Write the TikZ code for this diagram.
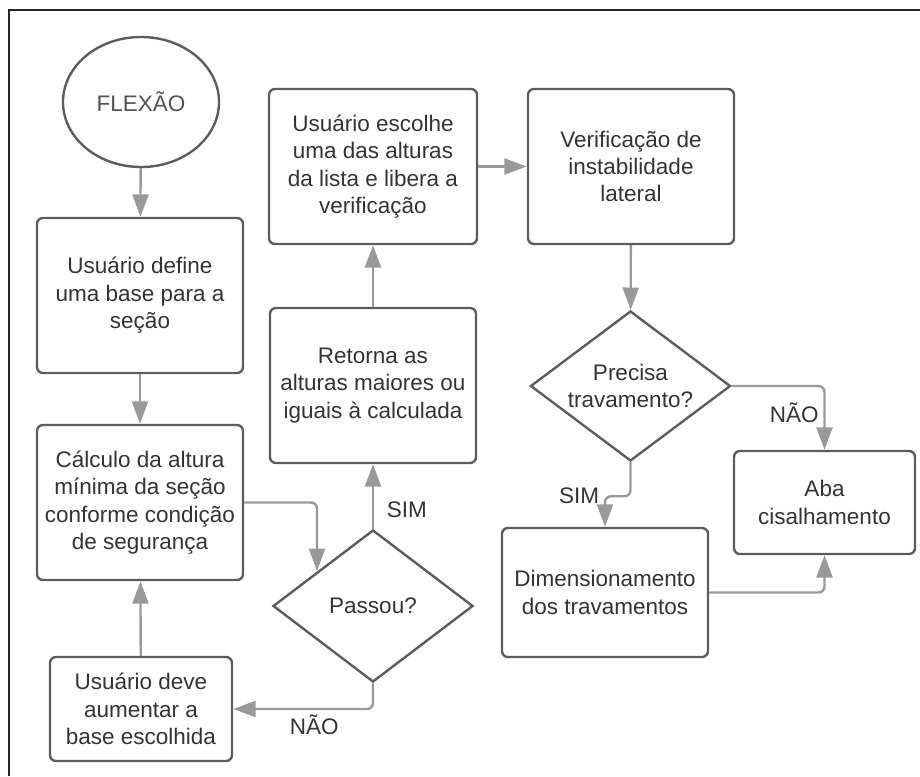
\documentclass[tikz,border=0pt]{standalone}
\usepackage{fontspec}
\setmainfont{Liberation Sans}
\usetikzlibrary{shapes.geometric, arrows.meta, positioning}
\definecolor{boxgray}{HTML}{5C5C5C}
\definecolor{linegray}{HTML}{999999}
\definecolor{textgray}{HTML}{333333}

\begin{document}
\begin{tikzpicture}[x=0.025cm, y=-0.025cm, every node/.style={font=\fontsize{16}{19.5}\selectfont, text=textgray, align=center}]
        \tikzstyle{startstop} = [ellipse, minimum width=3.9cm, minimum height=3.25cm, draw=boxgray, line width=1.7pt, text=textgray!85]
        \tikzstyle{process} = [rectangle, rounded corners=0.15cm, minimum width=5.15cm, minimum height=3.875cm, inner sep=2pt, draw=boxgray, line width=1.7pt]
        \tikzstyle{decision} = [diamond, aspect=1.33, inner sep=0pt, minimum width=5cm, minimum height=3.8cm, draw=boxgray, line width=1.7pt]
        \tikzstyle{arrow} = [line width=1.7pt, draw=linegray, rounded corners=0.15cm, -{Triangle[length=0.56cm, width=0.4cm]}]

        \useasboundingbox (0,0) rectangle (920,776);
        \draw [line width=1.4pt, black!85] (9,776) -- (9,10) -- (920,10);

        % Nodes
        \node (flexao) [startstop] at (141,102) {FLEXÃO};
        \node (define) [process] at (140,295.5) {Usuário define\\uma base para a\\seção};
        \node (calculo) [process] at (140,502.5) {Cálculo da altura\\mínima da seção\\conforme condição\\de segurança};
        \node (aumenta) [process, minimum width=4.55cm, minimum height=2.6cm] at (141,709) {Usuário deve\\aumentar a\\base escolhida};
        \node (passou) [decision] at (373,606) {Passou?};
        \node (retorna) [process] at (373,385.5) {Retorna as\\alturas maiores ou\\iguais à calculada};
        \node (escolhe) [process, minimum width=5.2cm] at (373,166.5) {Usuário escolhe\\uma das alturas\\da lista e libera a\\verificação};
        \node (verif) [process] at (631,166.5) {Verificação de\\instabilidade\\lateral};
        \node (precisa) [decision, minimum height=3.75cm] at (630.5,386) {Precisa\\travamento?};
        \node (aba) [process, minimum width=4.525cm, minimum height=2.575cm] at (824.5,502.5) {Aba\\cisalhamento};
        \node (dimens) [process, minimum height=3.225cm] at (605,592.5) {Dimensionamento\\dos travamentos};

        \coordinate (passin) at (317,571);

        % Connections
        \draw [arrow] (flexao) -- (define);
        \draw [arrow] (define) -- (calculo);
        \draw [arrow] (calculo.east) -| (passin);
        \draw [arrow] (passou.north) -- node[pos=0.3, right=0.2cm] {SIM} (retorna.south);
        \draw [arrow] (passou.south) |- node[pos=0.71, below] {NÃO} (aumenta.east);
        \draw [arrow] (aumenta) -- (calculo);
        \draw [arrow] (retorna) -- (escolhe);
        \draw [arrow] (escolhe) -- (verif);
        \draw [arrow] (verif) -- (precisa);
        \draw [arrow] (precisa.east) -| node[pos=0.71, left] {NÃO} (aba.north);
        \draw [arrow] (precisa.south) -- ++(0,34) -| node[pos=0.5, left] {SIM} (dimens.north);
        \draw [arrow] (dimens.east) -| (aba.south);
    \end{tikzpicture}
\end{document}
